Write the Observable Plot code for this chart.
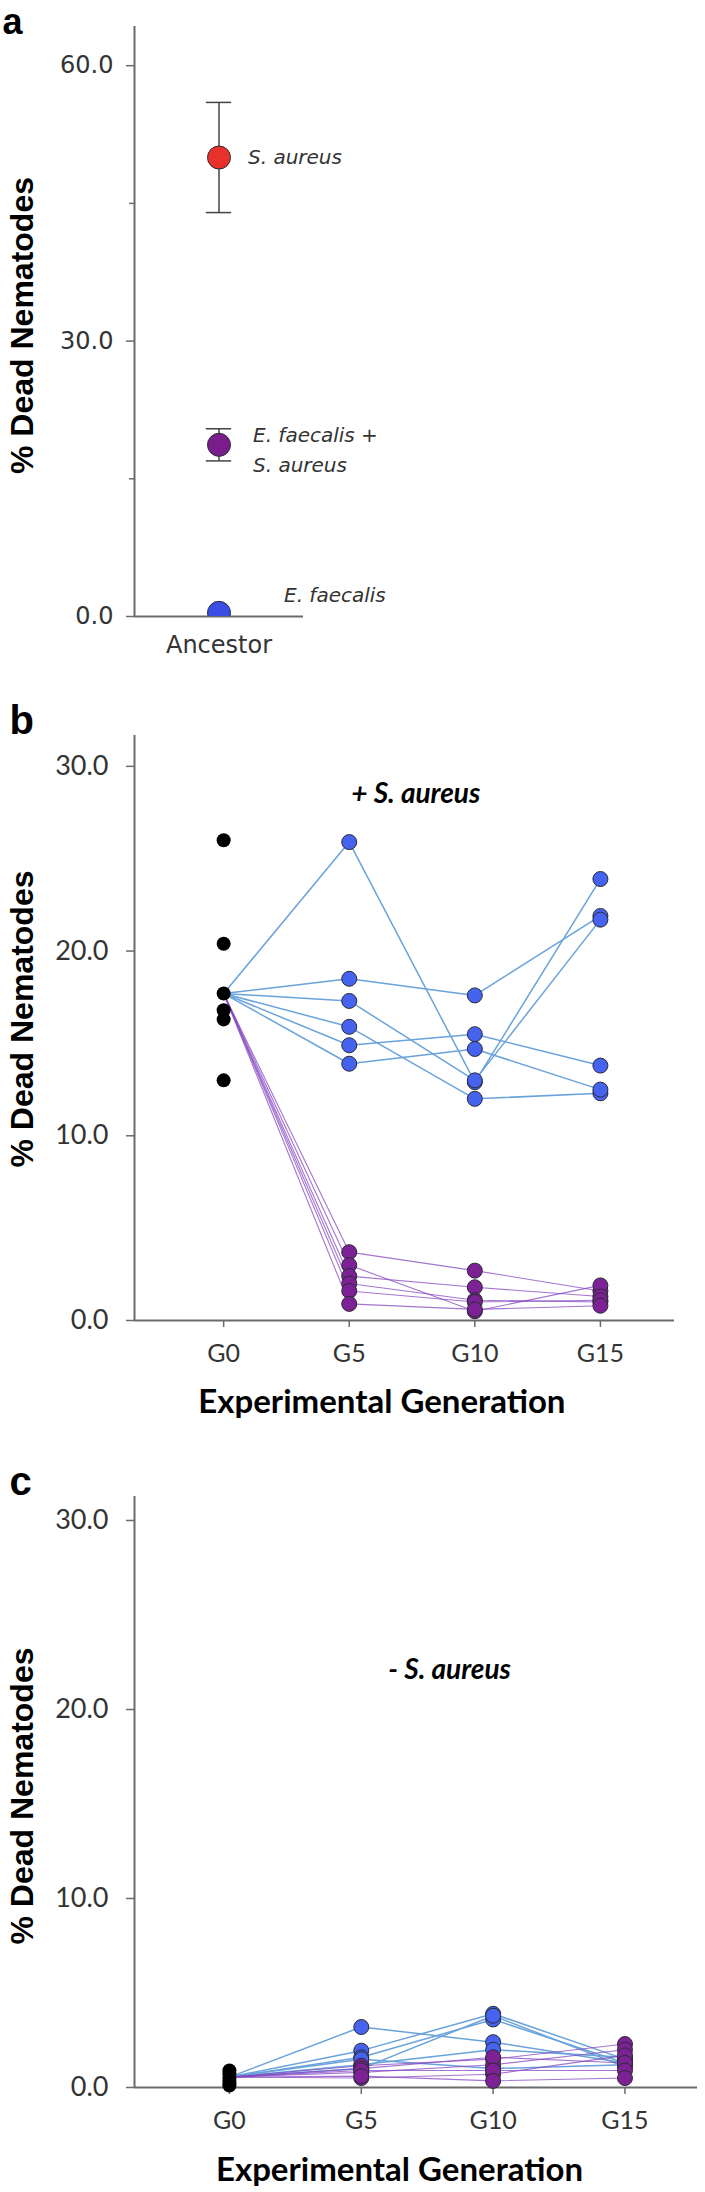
<!DOCTYPE html>
<html><head><meta charset="utf-8">
<script src="https://cdn.jsdelivr.net/npm/d3@7"></script>
<script src="https://cdn.jsdelivr.net/npm/@observablehq/plot@0.6"></script>
<style>
html,body{margin:0;padding:0;background:#fff;overflow:hidden;}
#chart{width:705px;}
#chart svg{display:block;}
</style></head><body><div id="chart"></div>
<script>
// ---------- Panel a : ancestors ----------
const ancestorNames = ["S. aureus", "E. faecalis +\nS. aureus", "E. faecalis"];
const ancestorMeans = [50.0, 18.7, 0.4];
const ancestorErrors = [6.0, 1.75, 0];
const ancestorColors = ["#e8312b", "#7a1d8c", "#3a4ee6"];
const ancestorCategory = ["Ancestor"];
const ticksA = [0, 30, 60];
const minorTicksA = [15, 45];

// ---------- Panel b : + S. aureus ----------
const generations = ["G0", "G5", "G10", "G15"];
const ticksBC = [0, 10, 20, 30];
const ancestorsB = [26.0, 20.4, 17.7, 16.8, 16.3, 13.0];
const blueB = [
  [17.7, 25.9, 12.9, 23.9],
  [17.7, 18.5, 17.6, 21.9],
  [17.7, 17.3, 13.0, 21.7],
  [17.7, 15.9, 12.0, 12.3],
  [17.7, 14.9, 15.5, 13.8],
  [17.7, 13.9, 14.7, 12.5]
];
const purpleB = [
  [17.7, 3.7, 2.7, 1.6],
  [17.7, 3.0, 0.5, 1.9],
  [17.7, 2.4, 1.8, 1.3],
  [17.7, 2.0, 1.1, 1.0],
  [17.7, 1.6, 1.0, 1.1],
  [17.7, 0.9, 0.6, 0.8]
];

// ---------- Panel c : - S. aureus ----------
const ancestorsC = [0.9, 0.7, 0.5, 0.35, 0.2, 0.1];
const blueC = [
  [0.55, 3.2, 2.4, 1.3],
  [0.55, 1.95, 3.9, 1.5],
  [0.55, 1.6, 3.6, 1.3],
  [0.55, 1.2, 2.0, 1.6],
  [0.55, 1.0, 3.8, 1.1],
  [0.55, 1.5, 1.0, 1.2]
];
const purpleC = [
  [0.55, 1.15, 1.5, 2.3],
  [0.55, 0.8, 1.2, 2.0],
  [0.55, 0.5, 0.7, 1.7],
  [0.55, 1.0, 1.6, 1.3],
  [0.55, 0.9, 0.9, 0.9],
  [0.55, 0.6, 0.35, 0.5]
];

const yTitle = "% Dead Nematodes";
const xTitle = "Experimental Generation";
const panelLetters = ["a", "b", "c"];
const treatments = ["+ S. aureus", "- S. aureus"];

// ---------- helpers ----------
const AXIS = "#6b6b6b";
const TEXT = "#333";
const BLUE_LINE = "#6aa3da";
const PURPLE_LINE = "#8547c2";
const BLUE_FILL = "#4663f0";
const PURPLE_FILL = "#7d2294";
const DOT_STROKE = "#2b2b35";
const TITLE_FONT = "Liberation Sans, Arial, sans-serif";

function toRows(lines, tag) {
  return lines.flatMap((vals, k) => vals.map((v, g) => ({g, v, id: tag + k})));
}
const fmt1 = d => d.toFixed(1);

// ---------- Panel a ----------
const idxA = ancestorMeans.map((_, i) => i);
const withErr = idxA.filter(i => ancestorErrors[i] > 0);
const capHalf = 0.15;
const plotA = Plot.plot({
  width: 705, height: 680,
  marginTop: 26, marginBottom: 64, marginLeft: 134, marginRight: 402,
  x: {type: "linear", domain: [0, 2], axis: null},
  y: {domain: [0, 64.27], axis: null},
  color: {type: "identity"},
  style: {fontFamily: "DejaVu Sans, sans-serif", fontSize: "24px", color: TEXT, background: "white", overflow: "visible"},
  marks: [
    Plot.ruleX([0], {stroke: AXIS, strokeWidth: 2}),
    Plot.ruleY([0], {stroke: AXIS, strokeWidth: 2}),
    Plot.axisY({ticks: ticksA, tickSize: 8, tickPadding: 13, tickFormat: fmt1, label: null, fontSize: 24, stroke: AXIS, strokeWidth: 1.5}),
    Plot.axisY({ticks: minorTicksA, tickSize: 5, tickFormat: () => "", label: null, stroke: AXIS, strokeWidth: 1.5}),
    Plot.ruleX(withErr, {x: () => 1, y1: i => ancestorMeans[i] - ancestorErrors[i], y2: i => ancestorMeans[i] + ancestorErrors[i], stroke: "#444", strokeWidth: 1.5}),
    Plot.ruleY(withErr, {y: i => ancestorMeans[i] + ancestorErrors[i], x1: () => 1 - capHalf, x2: () => 1 + capHalf, stroke: "#444", strokeWidth: 1.5}),
    Plot.ruleY(withErr, {y: i => ancestorMeans[i] - ancestorErrors[i], x1: () => 1 - capHalf, x2: () => 1 + capHalf, stroke: "#444", strokeWidth: 1.5}),
    Plot.dot(idxA, {x: () => 1, y: i => ancestorMeans[i], r: 11.5, fill: i => ancestorColors[i], stroke: DOT_STROKE, strokeWidth: 1, clip: true}),
    Plot.text([0], {x: () => 1, y: i => ancestorMeans[i], text: i => ancestorNames[i], dx: 29, textAnchor: "start", fontStyle: "italic", fontSize: 20, fill: TEXT}),
    Plot.text([1], {x: () => 1, y: i => ancestorMeans[i], text: i => ancestorNames[i], dx: 34, dy: 3, lineHeight: 1.5, textAnchor: "start", fontStyle: "italic", fontSize: 20, fill: TEXT}),
    Plot.text([2], {x: () => 1, y: i => ancestorMeans[i], text: i => ancestorNames[i], dx: 65, dy: -17, textAnchor: "start", fontStyle: "italic", fontSize: 20, fill: TEXT}),
    Plot.text(ancestorCategory, {x: () => 1, y: () => 0, dy: 29, text: d => d, fontSize: 24, fill: TEXT}),
    Plot.text([yTitle], {frameAnchor: "left", dx: -112, dy: 4, rotate: -90, textAnchor: "middle", lineAnchor: "middle", fontWeight: "bold", fontSize: 32, fontFamily: TITLE_FONT, fill: "#000"}),
    Plot.text([panelLetters[0]], {frameAnchor: "top-left", dx: -132, dy: -4, textAnchor: "start", lineAnchor: "middle", fontWeight: "bold", fontSize: 36, fontFamily: TITLE_FONT, fill: "#000"})
  ]
});

// ---------- Panels b and c ----------
function panel(opts) {
  const blueRows = toRows(opts.blue, "b");
  const purpleRows = toRows(opts.purple, "p");
  const gIdx = generations.map((_, i) => i);
  const [x0] = opts.xDomain;
  return Plot.plot({
    width: 705, height: opts.height,
    marginTop: opts.marginTop, marginBottom: opts.marginBottom, marginLeft: 134, marginRight: opts.marginRight,
    x: {type: "linear", domain: opts.xDomain, axis: null},
    y: {domain: [0, opts.yMax], axis: null},
    style: {fontFamily: "Lato, sans-serif", fontSize: "27px", color: TEXT, background: "white", overflow: "visible"},
    marks: [
      Plot.ruleX([x0], {stroke: AXIS, strokeWidth: 2}),
      Plot.ruleY([0], {stroke: AXIS, strokeWidth: 2}),
      Plot.axisY({ticks: ticksBC, tickSize: 8, tickPadding: 18, tickFormat: fmt1, label: null, fontSize: 27, stroke: AXIS, strokeWidth: 1.5}),
      Plot.axisX({ticks: gIdx, tickSize: 7, tickPadding: 17, tickFormat: i => generations[i], label: null, fontSize: 25, stroke: AXIS, strokeWidth: 1.5}),
      Plot.line(blueRows, {x: "g", y: "v", z: "id", stroke: BLUE_LINE, strokeWidth: 1.5}),
      Plot.line(purpleRows, {x: "g", y: "v", z: "id", stroke: PURPLE_LINE, strokeWidth: 1.1, strokeOpacity: 0.75}),
      Plot.dot(opts.ancestors, {x: () => 0, y: d => d, r: 7, fill: "#000"}),
      Plot.dot(blueRows.filter(d => d.g > 0), {x: "g", y: "v", r: 7.5, fill: BLUE_FILL, stroke: DOT_STROKE, strokeWidth: 1}),
      Plot.dot(purpleRows.filter(d => d.g > 0), {x: "g", y: "v", r: 7.5, fill: PURPLE_FILL, stroke: DOT_STROKE, strokeWidth: 1}),
      Plot.text([opts.treatment], {x: () => opts.labelX, y: () => opts.labelY, fontWeight: "bold", fontStyle: "italic", fontSize: 28, fill: "#000"}),
      Plot.text([xTitle], {x: () => opts.titleX, y: () => 0, dy: opts.titleDy, fontWeight: "bold", fontSize: 33, fill: "#000"}),
      Plot.text([yTitle], {frameAnchor: "left", dx: -112, dy: opts.yTitleDy, rotate: -90, textAnchor: "middle", lineAnchor: "middle", fontWeight: "bold", fontSize: 32, fontFamily: TITLE_FONT, fill: "#000"}),
      Plot.text([opts.letter], {frameAnchor: "top-left", dx: -125, dy: -14, textAnchor: "start", lineAnchor: "middle", fontWeight: "bold", fontSize: 40, fontFamily: TITLE_FONT, fill: "#000"})
    ]
  });
}

const plotB = panel({
  height: 760, marginTop: 55, marginBottom: 120, marginRight: 31,
  xDomain: [-0.71, 3.59], yMax: 31.67,
  ancestors: ancestorsB, blue: blueB, purple: purpleB,
  treatment: treatments[0], labelX: 1.53, labelY: 28.5,
  titleX: 1.26, titleDy: 82, yTitleDy: -9, letter: panelLetters[1]
});

const plotC = panel({
  height: 752, marginTop: 56, marginBottom: 105, marginRight: 8,
  xDomain: [-0.72, 3.55], yMax: 31.27,
  ancestors: ancestorsC, blue: blueC, purple: purpleC,
  treatment: treatments[1], labelX: 1.67, labelY: 22.1,
  titleX: 1.29, titleDy: 83, yTitleDy: 4, letter: panelLetters[2]
});

document.getElementById("chart").append(plotA, plotB, plotC);
</script>
</body></html>
